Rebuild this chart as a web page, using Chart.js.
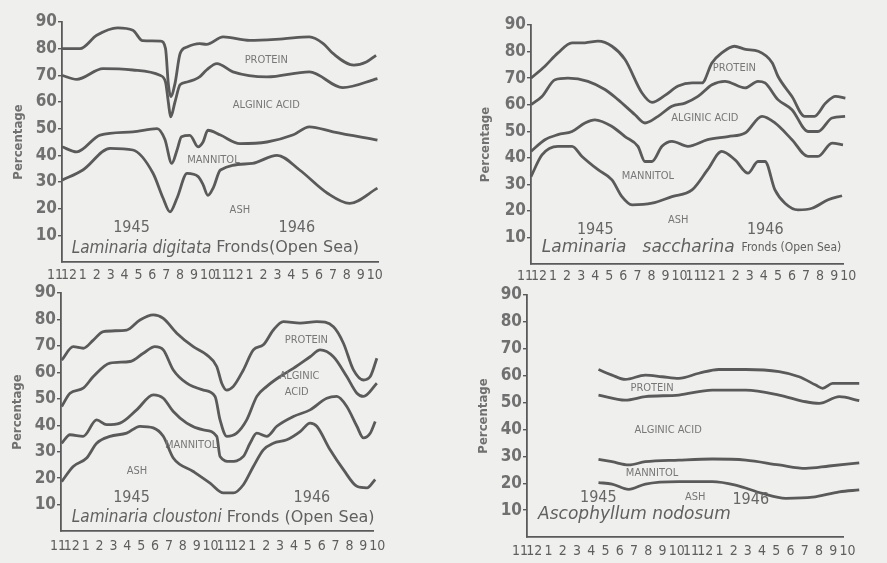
<!DOCTYPE html>
<html>
<head>
<meta charset="utf-8">
<script src="https://cdn.jsdelivr.net/npm/chart.js@4"></script>
<style>
  html, body { margin:0; padding:0; }
  body { width:887px; height:563px; background:#efefed; position:relative; overflow:hidden; }
  canvas { position:absolute; }
</style>
</head>
<body>
<canvas id="pDigitata"></canvas>
<canvas id="pSaccharina"></canvas>
<canvas id="pCloustoni"></canvas>
<canvas id="pNodosum"></canvas>
<script>
// ── axis labels ──────────────────────────────
const MONTHS  = ['11','12','1','2','3','4','5','6','7','8','9','10','11','12','1','2','3','4','5','6','7','8','9','10'];
const Y_TICKS = [10,20,30,40,50,60,70,80,90];
const NAMES   = ['PROTEIN','ALGINIC ACID','MANNITOL','ASH'];
const YEARS   = ['1945','1946'];

// ── Laminaria digitata  [month index, %] ─────
const digitataProtein  = [[0.5,80],[1.8,80],[3.0,85],[4.5,87.8],[5.6,86.9],[6.3,83],[7.6,82.8],[7.95,80],[8.15,66.9],[8.32,62],[8.63,66.9],[9.0,78.2],[9.5,80.6],[10.4,81.9],[10.9,81.6],[12.1,84.4],[14.0,83.1],[16.4,83.7],[18.3,84.4],[19.3,81.9],[20.0,78.2],[21.5,73.8],[22.4,75],[23.1,77.5]];
const digitataAlginic  = [[0.5,70],[1.56,68.5],[3.45,72.5],[5.6,72],[7.55,70],[7.95,67.5],[8.15,60],[8.32,54.4],[8.63,60],[9.0,66.5],[9.5,67.5],[10.4,69.4],[10.9,72],[11.65,74.4],[12.8,71.3],[15.25,69.4],[18.3,71.3],[20.7,65.4],[23.2,68.8]];
const digitataMannitol = [[0.5,43.2],[1.56,41.3],[3.24,47.6],[5.6,48.8],[7.34,50],[7.9,46],[8.4,37],[8.78,42],[9.1,47],[9.7,47.5],[10.3,43.2],[10.65,45],[11.0,49.4],[11.9,47.6],[13.3,44.4],[15.25,45],[17.1,47.6],[18.3,50.7],[20.0,48.8],[23.2,45.7]];
const digitataAsh      = [[0.5,30.7],[2.0,34.5],[3.96,42.6],[5.6,42],[7.05,33.3],[7.77,24],[8.27,18.8],[8.78,24],[9.5,33.2],[10.3,32],[10.65,29],[11.0,25],[11.4,28],[11.9,34.5],[14.2,37],[15.97,40],[17.6,34.5],[19.6,25.8],[21.2,22],[23.2,27.7]];

// ── Laminaria saccharina ─────────────────────
const saccharinaProtein  = [[0.43,70],[1.42,74.5],[2.35,79.5],[3.35,83.3],[4.27,83.3],[5.2,83.9],[6.19,82],[7.12,77],[8.33,64.4],[9.04,60.9],[9.96,63.5],[10.9,67],[11.9,68.2],[12.6,68.2],[13.3,75.7],[14.0,79.5],[14.9,82],[15.7,80.8],[16.6,80.1],[17.6,75.7],[18.0,70.7],[19.0,63.1],[19.9,55.6],[20.6,55.6],[21.4,60.6],[22.1,63.1],[22.8,62.5]];
const saccharinaAlginic  = [[0.43,60],[1.21,63.1],[2.14,69.4],[3.06,70],[4.48,68.8],[5.69,65.7],[6.62,61.9],[7.83,56.2],[8.54,53.1],[9.47,55.6],[10.46,59.4],[11.39,60.6],[12.31,63.1],[13.31,67.5],[14.23,68.8],[15.66,66.3],[16.58,68.8],[17.08,68.2],[18.0,61.9],[19.0,58.1],[20.14,49.9],[20.85,49.9],[21.85,55],[22.78,55.6]];
const saccharinaMannitol = [[0.43,42.4],[1.42,46.8],[2.35,48.7],[3.35,49.9],[4.27,53.1],[4.98,54.3],[6.19,51.8],[7.12,48],[8.04,44.3],[8.54,38.6],[9.04,38.6],[9.75,44.3],[10.46,46.2],[11.6,44.3],[13.0,46.8],[14.45,48],[15.66,49.3],[16.87,55.6],[17.79,53.1],[19.0,46.8],[20.14,40.5],[20.85,40.5],[21.85,45.5],[22.63,44.9]];
const saccharinaAsh      = [[0.43,32.9],[1.21,41.1],[2.35,44.3],[3.35,44.3],[4.06,40.5],[5.2,35.5],[6.19,31.7],[6.9,25.4],[7.62,22.3],[9.04,22.9],[10.46,25.4],[11.89,27.9],[13.0,35.5],[14.0,42.4],[14.95,39.2],[15.87,34.2],[16.58,38.6],[17.08,38.6],[17.79,27.9],[18.5,22.9],[19.43,20.4],[20.43,21],[21.57,24.2],[22.56,25.7]];

// ── Laminaria cloustoni ──────────────────────
const cloustoniProtein  = [[0.27,64.6],[1.1,69.7],[1.82,69.1],[2.55,72.2],[3.27,75.4],[4.95,76.0],[5.91,79.8],[6.87,81.7],[7.59,80.4],[8.56,74.8],[9.75,69.7],[10.72,66.6],[11.44,62.2],[11.8,55.9],[12.16,53.3],[12.64,54.7],[13.36,60.9],[14.08,68.5],[14.8,70.4],[15.52,76.0],[16.24,79.2],[17.45,78.6],[18.65,79.2],[19.85,77.2],[20.57,71.0],[21.29,60.9],[22.01,57.1],[22.5,58.4],[22.98,65.3]];
const cloustoniAlginic  = [[0.27,47.1],[0.87,52.1],[1.82,54.0],[2.55,58.4],[3.75,63.5],[5.19,64.1],[6.15,67.2],[6.99,69.7],[7.59,68.5],[8.31,60.9],[9.28,55.9],[10.48,53.3],[11.32,50.9],[11.68,42.0],[12.16,35.8],[12.88,37.0],[13.6,42.0],[14.33,50.9],[15.05,54.7],[16.0,58.4],[16.96,61.5],[18.17,65.9],[18.89,68.5],[19.85,65.9],[20.81,58.4],[21.54,52.1],[22.01,50.9],[22.98,55.9]];
const cloustoniMannitol = [[0.27,33.2],[0.87,36.4],[1.82,35.8],[2.79,42.0],[3.51,40.2],[4.47,40.8],[5.67,45.8],[6.87,51.5],[7.59,50.2],[8.31,45.2],[9.28,40.8],[10.48,38.2],[11.44,35.8],[11.68,28.2],[12.4,26.3],[13.36,28.2],[13.84,33.2],[14.33,37.0],[15.05,35.8],[15.77,39.6],[16.96,43.3],[18.17,45.8],[19.37,50.2],[20.09,50.9],[20.81,47.1],[21.54,39.6],[22.01,35.2],[22.5,37.0],[22.86,41.4]];
const cloustoniAsh      = [[0.27,18.7],[1.1,24.4],[2.07,27.6],[2.79,33.2],[3.75,35.8],[4.95,37.0],[5.91,39.6],[6.87,39.0],[7.59,35.8],[8.31,27.6],[9.75,22.5],[10.96,18.1],[11.92,14.4],[12.64,14.4],[13.36,17.5],[14.08,24.4],[14.8,30.7],[15.52,33.2],[16.49,34.5],[17.45,37.6],[18.17,40.8],[18.65,39.6],[19.61,30.7],[20.57,23.2],[21.54,16.9],[22.26,16.3],[22.86,19.5]];

// ── Ascophyllum nodosum ──────────────────────
const nodosumProtein  = [[5.51,62.3],[6.46,60.2],[7.39,58.6],[8.8,60.2],[9.98,59.6],[11.15,59],[12.56,60.9],[13.96,62.3],[15.85,62.3],[18.19,61.5],[19.6,59.6],[20.77,56.5],[21.25,55.3],[21.95,57.1],[23.82,57.1]];
const nodosumAlginic  = [[5.51,52.8],[7.39,50.9],[8.8,52.2],[11.15,52.8],[13.5,54.6],[15.85,54.6],[18.19,52.8],[20.07,50.3],[21.01,49.7],[22.42,52.2],[23.82,50.7]];
const nodosumMannitol = [[5.51,28.9],[6.46,28],[7.63,26.8],[8.8,28],[11.15,28.6],[13.5,29],[15.85,28.6],[18.19,26.8],[20.07,25.5],[21.71,26.4],[23.82,27.6]];
const nodosumAsh      = [[5.51,20.2],[6.46,19.7],[7.63,17.7],[8.8,19.7],[11.15,20.6],[13.5,20.6],[15.14,19.3],[17.02,16.2],[18.66,14.4],[20.54,14.8],[22.42,16.8],[23.82,17.5]];

// ══════════════════════════════════════════════
// PANEL
// ══════════════════════════════════════════════
const FONT    = '"DejaVu Sans Condensed","Liberation Sans Narrow","DejaVu Sans",sans-serif';
const WIDE    = '"DejaVu Sans",sans-serif';
const INK     = '#5a5a5a';

function makePanel(id, p) {
  const cv = document.getElementById(id);
  cv.width = p.w; cv.height = p.h;
  cv.style.left = p.left+'px'; cv.style.top = p.top+'px';

  // series names, years and caption written inside the plot
  const textPlugin = {
    id: 'panelText',
    afterDraw(chart) {
      const {ctx, scales:{x, y}} = chart;
      ctx.save();
      ctx.textBaseline = 'middle';
      ctx.textAlign = 'center';
      p.notes.forEach(n => {
        ctx.fillStyle = n.size > 14 ? '#666' : '#777';
        ctx.font = `${n.size}px ${FONT}`;
        ctx.fillText(n.t, x.getPixelForValue(n.x), y.getPixelForValue(n.y));
      });
      const c = p.caption;
      let cx = x.getPixelForValue(c.x);
      const cy = y.getPixelForValue(c.y);
      ctx.fillStyle = '#606060';
      ctx.textAlign = 'left';
      ctx.font = `italic ${c.size}px ${c.nameFont || FONT}`;
      ctx.fillText(c.name, cx, cy);
      cx += ctx.measureText(c.name).width + c.gap;
      if (c.rest) {
        ctx.font = `${c.restSize || c.size}px ${c.restFont || FONT}`;
        ctx.fillText(c.rest, cx, cy);
      }
      ctx.restore();
    }
  };

  return new Chart(cv, {
    type: 'line',
    data: {
      datasets: p.series.map(s => ({
        data: s.map(([x, y]) => ({x, y})),
        borderColor: INK, borderWidth: 2.8,
        pointRadius: 0, fill: false,
        cubicInterpolationMode: 'monotone',
        clip: false
      }))
    },
    options: {
      responsive: false, animation: false,
      layout: { padding: { top: p.padTop, right: p.padRight, left: 0, bottom: 0 } },
      plugins: { legend: { display: false }, tooltip: { enabled: false } },
      scales: {
        x: {
          type: 'linear', min: p.xMin, max: p.xMax,
          afterBuildTicks: s => { s.ticks = MONTHS.map((m, i) => ({ value: i })); },
          afterFit: s => { s.height = p.xHeight; },
          ticks: { autoSkip: false, maxRotation: 0, minRotation: 0, padding: p.xLabelPad,
                   color: '#5e5e5e', font: { family: FONT, size: 14 }, callback: v => MONTHS[v] },
          grid: { display: false, drawTicks: false },
          border: { display: true, color: INK, width: 1.8 }
        },
        y: {
          min: 0, max: 90,
          afterBuildTicks: s => { s.ticks = Y_TICKS.map(v => ({ value: v })); },
          afterFit: s => { s.width = p.yWidth; },
          ticks: { padding: 1, color: '#707070', font: { family: FONT, size: 17, weight: 'bold' } },
          grid: { drawOnChartArea: false, drawTicks: true, tickLength: 4, color: INK, lineWidth: 1.4 },
          border: { display: true, color: INK, width: 1.8 },
          title: { display: true, text: 'Percentage', color: '#707070',
                   font: { family: FONT, size: 13, weight: 'bold' }, padding: { top: p.titlePad, bottom: 0 } }
        }
      }
    },
    plugins: [textPlugin]
  });
}

makePanel('pDigitata', {
  left: 0, top: 0, w: 445, h: 285, yWidth: 62, padTop: 22, padRight: 67,
  xHeight: 23, xLabelPad: 5, titlePad: 11, xMin: 0.5, xMax: 23.24,
  series: [digitataProtein, digitataAlginic, digitataMannitol, digitataAsh],
  notes: [
    { t: NAMES[0], x: 15.2, y: 75.6, size: 11 },
    { t: NAMES[1], x: 15.2, y: 58.8, size: 11 },
    { t: NAMES[2], x: 11.4, y: 38.2, size: 11 },
    { t: NAMES[3], x: 13.3, y: 19.5, size: 11 },
    { t: YEARS[0], x: 5.5,  y: 12.7, size: 16 },
    { t: YEARS[1], x: 17.4, y: 12.7, size: 16 }
  ],
  caption: { name: 'Laminaria digitata', rest: 'Fronds(Open Sea)', x: 1.2, y: 5.2, size: 17, gap: 5,
             restFont: WIDE, restSize: 16 }
});

makePanel('pSaccharina', {
  left: 469, top: 0, w: 418, h: 285, yWidth: 62, padTop: 25, padRight: 44,
  xHeight: 21, xLabelPad: 4, titlePad: 9, xMin: 0.43, xMax: 22.63,
  series: [saccharinaProtein, saccharinaAlginic, saccharinaMannitol, saccharinaAsh],
  notes: [
    { t: NAMES[0], x: 14.9, y: 73.8, size: 11 },
    { t: NAMES[1], x: 12.8, y: 55,   size: 11 },
    { t: NAMES[2], x: 8.75, y: 33,   size: 11 },
    { t: NAMES[3], x: 10.9, y: 16.6, size: 11 },
    { t: YEARS[0], x: 5.0,  y: 12.8, size: 16 },
    { t: YEARS[1], x: 17.1, y: 12.8, size: 16 }
  ],
  caption: { name: 'Laminaria   saccharina', rest: 'Fronds (Open Sea)', x: 1.2, y: 6.0, size: 17, gap: 7,
             nameFont: WIDE, restSize: 12 }
});

makePanel('pCloustoni', {
  left: 0, top: 280, w: 445, h: 283, yWidth: 61, padTop: 13, padRight: 72,
  xHeight: 32, xLabelPad: 7, titlePad: 10, xMin: 0.22, xMax: 22.7,
  series: [cloustoniProtein, cloustoniAlginic, cloustoniMannitol, cloustoniAsh],
  notes: [
    { t: NAMES[0], x: 17.9, y: 72.3, size: 11 },
    { t: 'ALGINIC', x: 17.4, y: 58.4, size: 11 },
    { t: 'ACID',    x: 17.2, y: 52.4, size: 11 },
    { t: NAMES[2], x: 9.6,  y: 32.6, size: 11 },
    { t: NAMES[3], x: 5.7,  y: 22.6, size: 11 },
    { t: YEARS[0], x: 5.3,  y: 12.5, size: 16 },
    { t: YEARS[1], x: 18.3, y: 12.5, size: 16 }
  ],
  caption: { name: 'Laminaria cloustoni', rest: 'Fronds (Open Sea)', x: 1.0, y: 5.0, size: 17, gap: 5,
             restFont: WIDE, restSize: 16 }
});

makePanel('pNodosum', {
  left: 465, top: 280, w: 422, h: 283, yWidth: 62, padTop: 15, padRight: 44,
  xHeight: 26, xLabelPad: 6, titlePad: 11, xMin: 0.49, xMax: 22.68,
  series: [nodosumProtein, nodosumAlginic, nodosumMannitol, nodosumAsh],
  notes: [
    { t: NAMES[0], x: 9.27, y: 55.3, size: 11 },
    { t: NAMES[1], x: 10.4, y: 39.8, size: 11 },
    { t: NAMES[2], x: 9.27, y: 23.7, size: 11 },
    { t: NAMES[3], x: 12.3, y: 15,   size: 11 },
    { t: YEARS[0], x: 5.5,  y: 14.4, size: 16 },
    { t: YEARS[1], x: 16.2, y: 13.8, size: 16 }
  ],
  caption: { name: 'Ascophyllum nodosum', rest: '', x: 1.27, y: 8.2, size: 17, gap: 0, nameFont: WIDE }
});
</script>
</body>
</html>
